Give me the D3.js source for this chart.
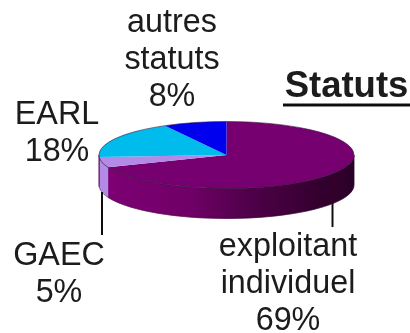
<!DOCTYPE html>
<html><head><meta charset="utf-8">
<style>html,body{margin:0;padding:0;background:#fff}svg{display:block}text{font-family:"Liberation Sans",Arial,sans-serif;fill:#1a1a1a}</style>
<script src="https://cdn.jsdelivr.net/npm/d3@7"></script></head><body>
<script>
const categories = ["exploitant individuel","GAEC","EARL","autres statuts"];
const values = [69,5,18,8];
const colors = ["#770070","#b48ae8","#00bcec","#0000ee"];
const sideColors = [null,"#b48ae8",null,null];
const labelLines = [["exploitant","individuel","69%"],["GAEC","5%"],["EARL","18%"],["autres","statuts","8%"]];
const labelPos = [[288,256],[59,265],[57,124],[172,32]];
const title = "Statuts";

const W=410,H=333,cx=226.5,cy=155,rx=127.5,ry=33.5,depth=30;
const svg=d3.select("body").append("svg").attr("width",W).attr("height",H);
const defs=svg.append("defs");
const grad=defs.append("linearGradient").attr("id","side").attr("gradientUnits","userSpaceOnUse")
 .attr("x1",cx-rx).attr("x2",cx+rx).attr("y1",0).attr("y2",0);
[[0,"#7e0074"],[0.35,"#700068"],[0.6,"#4e0048"],[0.85,"#35002f"],[1,"#2b0028"]].forEach(s=>grad.append("stop").attr("offset",s[0]).attr("stop-color",s[1]));
defs.append("filter").attr("id","soft").append("feGaussianBlur").attr("stdDeviation",0.45);

const arcs=d3.pie().sort(null).value(d=>d)(values);
const root=svg.append("g").attr("filter","url(#soft)");
const pt=(a,dy=0)=>[cx+rx*Math.sin(a),cy-ry*Math.cos(a)+dy];
function wall(a0,a1){
  const p=d3.range(0,41).map(i=>pt(a0+(a1-a0)*i/40));
  const q=p.slice().reverse().map(d=>[d[0],d[1]+depth]);
  return d3.line()(p.concat(q))+"Z";
}
const PI=Math.PI;
arcs.forEach((d,i)=>{
  const a0=Math.max(d.startAngle,PI/2),a1=Math.min(d.endAngle,1.5*PI);
  if(a1>a0) root.append("path").attr("d",wall(a0,a1)).attr("fill",sideColors[i]||"url(#side)").attr("stroke",sideColors[i]||"url(#side)").attr("stroke-width",0.5);
});
root.append("path").attr("d",wall(PI/2,1.5*PI)).attr("fill","none").attr("stroke","#2a0a2a").attr("stroke-width",0.4);
const arc=d3.arc().innerRadius(0).outerRadius(rx);
const topFace=root.append("g").attr("transform",`translate(${cx},${cy}) scale(1,${ry/rx})`);
topFace.selectAll("path").data(arcs).join("path").attr("d",arc).attr("fill",(d,i)=>colors[i]);
root.append("ellipse").attr("cx",cx).attr("cy",cy).attr("rx",rx).attr("ry",ry).attr("fill","none").attr("stroke","#3a1a44").attr("stroke-width",0.6);

const leaders=[[332.5,203,227],[102,192,235]];
leaders.forEach(l=>root.append("line").attr("x1",l[0]).attr("x2",l[0]).attr("y1",l[1]).attr("y2",l[2]).attr("stroke","#111").attr("stroke-width",2));

const lh=37.2;
labelLines.forEach((lines,i)=>{
  const t=root.append("text").attr("text-anchor","middle").attr("font-size",32.3);
  lines.forEach((s,j)=>t.append("tspan").attr("x",labelPos[i][0]).attr("y",labelPos[i][1]+j*lh).text(s));
});
root.append("text").attr("x",346.5).attr("y",97).attr("text-anchor","middle").attr("font-size",36.5).attr("font-weight","bold").text(title);
root.append("line").attr("x1",283).attr("x2",410).attr("y1",105).attr("y2",105).attr("stroke","#111").attr("stroke-width",3);
</script></body></html>
